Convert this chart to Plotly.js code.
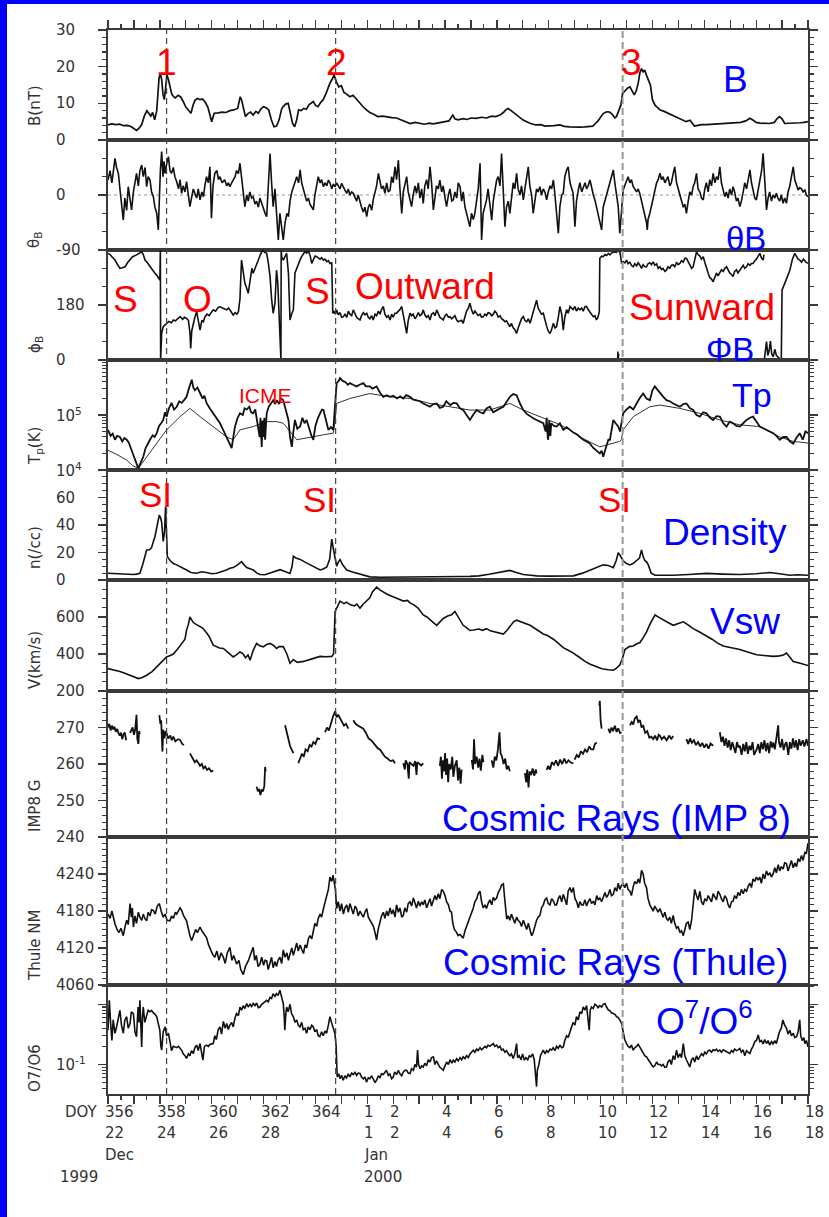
<!DOCTYPE html>
<html>
<head>
<meta charset="utf-8">
<script src="https://cdn.plot.ly/plotly-3.0.1.min.js"></script>
<style>
html,body{margin:0;padding:0;background:#0000ff;width:829px;height:1217px;overflow:hidden}
#frame{position:absolute;left:7px;top:4px;width:822px;height:1213px;background:#fff}
#chart{width:822px;height:1213px}
</style>
</head>
<body>
<div id="frame"><div id="chart"></div></div>
<script>
// Solar wind, magnetic field, cosmic ray and charge-state overview, 22 Dec 1999 - 18 Jan 2000.
// Time is given in days elapsed since 1999 DOY 356 00:00.

const dayTicks   = [0,2,4,6,8,10,11,13,15,17,19,21,23,25,27];
const doyLabels  = ['356','358','360','362','364','1','2','4','6','8','10','12','14','16','18'];
const dateLabels = ['22','24','26','28','','1','2','4','6','8','10','12','14','16','18'];
const eventDays  = [2.26, 8.78, 19.85];

// |B| in nT
const bField = [[0,4.1],[0.15,4.4],[0.3,4.2],[0.45,4.3],[0.6,3.9],[0.75,4.0],[0.9,3.6],[1.0,3.0],[1.1,2.6],[1.2,3.2],[1.3,4.2],[1.4,6.5],[1.5,8.0],[1.58,7.2],[1.65,6.5],[1.72,7.5],[1.8,5.5],[1.88,8],[1.93,12],[1.97,17],[2.02,18],[2.07,16.5],[2.12,12.5],[2.17,11],[2.22,14],[2.27,17.8],[2.33,16.5],[2.4,14.5],[2.46,12.5],[2.53,11.8],[2.6,11.5],[2.7,12.2],[2.8,11.8],[2.9,10.5],[3.0,9],[3.1,8.2],[3.2,7.3],[3.28,9.5],[3.35,10.8],[3.45,11.3],[3.55,11.0],[3.65,11.2],[3.75,10.3],[3.85,9],[3.93,6.5],[4.0,5],[4.06,6.5],[4.1,7.3],[4.25,7.4],[4.4,7.6],[4.55,7.5],[4.7,8.0],[4.85,8.2],[5.0,8.6],[5.06,10.5],[5.1,11.8],[5.15,11],[5.2,9.5],[5.26,7],[5.3,6.4],[5.4,7.2],[5.5,7.6],[5.6,6.8],[5.7,7.8],[5.8,7.3],[5.9,8.5],[6.0,9.1],[6.1,8.8],[6.2,8.2],[6.3,5.5],[6.4,3.6],[6.5,3.8],[6.6,5.5],[6.7,8.5],[6.76,9.1],[6.85,9.8],[6.95,10],[7.05,7],[7.12,4.5],[7.2,3.6],[7.28,5.5],[7.35,8.2],[7.45,8.0],[7.55,8.6],[7.65,8.4],[7.75,9.6],[7.85,10.2],[7.92,10.5],[8.0,9.5],[8.1,9.1],[8.2,10.2],[8.3,11],[8.4,12.5],[8.5,14.5],[8.56,15.5],[8.64,16.5],[8.72,17.7],[8.8,16],[8.9,14.5],[9.0,14.8],[9.1,13],[9.2,12.5],[9.33,11.8],[9.45,12.2],[9.6,11],[9.75,9.5],[9.85,9],[9.97,8.2],[10.1,7.5],[10.25,7],[10.4,6.4],[10.6,6.5],[10.8,6.2],[10.95,6.1],[11.13,6],[11.3,5.5],[11.45,5.0],[11.65,4.5],[11.85,4.8],[12.0,4.6],[12.2,4.3],[12.4,4.6],[12.54,4.4],[12.7,4.6],[12.85,4.9],[13.0,5],[13.15,5.2],[13.25,6.5],[13.3,6.8],[13.38,5.8],[13.5,5.5],[13.7,5.8],[13.85,5.6],[14.0,6],[14.2,5.9],[14.4,6.2],[14.6,6.0],[14.8,6.5],[14.95,6.4],[15.12,6.8],[15.25,7.5],[15.35,8.3],[15.43,8.6],[15.55,8.0],[15.7,7.2],[15.85,6.2],[16.0,5.5],[16.15,5.0],[16.3,4.5],[16.5,4.1],[16.7,4.2],[16.85,3.8],[17.0,3.8],[17.2,3.9],[17.43,4.1],[17.6,3.7],[17.8,3.6],[18.0,3.5],[18.2,3.5],[18.4,3.6],[18.55,3.7],[18.7,3.8],[18.8,4.5],[18.9,5.2],[19.0,6.2],[19.1,7.2],[19.23,7.7],[19.35,7.6],[19.45,7.0],[19.55,6.0],[19.62,6.5],[19.7,8.0],[19.78,9.5],[19.85,12.7],[19.95,13.5],[20.05,14.2],[20.13,14.5],[20.22,13.2],[20.3,12.3],[20.38,13.5],[20.45,15.5],[20.52,18.5],[20.58,19.5],[20.64,18.5],[20.7,19.1],[20.78,17.5],[20.85,16],[20.92,15],[21.0,11],[21.1,9.5],[21.2,8.8],[21.3,8.2],[21.45,7.8],[21.6,7.3],[21.75,6.8],[21.9,6.2],[22.0,6],[22.15,5.5],[22.3,5],[22.45,5.4],[22.55,4.6],[22.62,3.8],[22.75,4.0],[22.9,4.2],[23.1,4.2],[23.3,4.3],[23.5,4.4],[23.7,4.4],[23.86,4.5],[24.0,4.5],[24.2,4.6],[24.4,4.8],[24.6,5.2],[24.76,5.9],[24.9,5.3],[25.0,4.8],[25.15,4.6],[25.3,4.6],[25.5,4.5],[25.7,4.8],[25.8,5.8],[25.9,6.4],[26.0,5.8],[26.1,4.5],[26.3,4.5],[26.5,4.6],[26.7,4.7],[26.85,4.8],[27.0,5]];

// field latitude theta_B in degrees
const thetaB = [[0,24.5],[0.08,40],[0.15,20],[0.27,60],[0.33,45],[0.4,35.5],[0.46,10],[0.52,-15],[0.59,-41],[0.65,-5],[0.72,-25],[0.78,13.6],[0.85,-10],[0.91,-24.5],[0.98,5],[1.04,20],[1.1,35.5],[1.17,15],[1.23,40],[1.3,49],[1.36,30],[1.43,45],[1.49,13.6],[1.55,30],[1.62,24.5],[1.68,5],[1.75,-2.7],[1.81,-20],[1.88,-30],[1.94,-57],[1.98,0],[2.02,40],[2.07,71],[2.12,30],[2.16,55],[2.2,35.5],[2.26,50],[2.33,62.7],[2.39,40],[2.45,35.5],[2.52,45],[2.58,30],[2.65,21.8],[2.72,10],[2.78,25],[2.84,2.7],[2.9,15],[2.97,5],[3.03,21.8],[3.1,0],[3.16,-19],[3.22,-5],[3.29,10],[3.35,2.7],[3.42,-5],[3.48,10],[3.55,-8],[3.62,5],[3.68,-3],[3.74,16],[3.8,30],[3.87,20],[3.93,46],[3.96,10],[3.99,-38],[4.05,15],[4.12,35.5],[4.2,40],[4.26,25],[4.32,30],[4.4,20],[4.5,25],[4.58,15],[4.64,20],[4.7,13.6],[4.77,20],[4.83,25],[4.9,30],[4.96,40],[5.03,35],[5.09,52],[5.15,30],[5.2,10],[5.28,-19],[5.35,0],[5.41,-10],[5.47,5],[5.54,-5],[5.6,-2.7],[5.67,-15],[5.73,-10],[5.8,-20],[5.86,-5],[5.93,-13.6],[6.0,-25],[6.06,-30],[6.12,-35.5],[6.18,10],[6.25,68],[6.31,20],[6.37,-19],[6.44,10],[6.51,-30],[6.57,-73.6],[6.63,-30],[6.7,-50],[6.76,-73.6],[6.83,-45],[6.9,-30],[6.96,-35.5],[7.02,-10],[7.09,5],[7.15,13.6],[7.22,25],[7.28,30],[7.35,20],[7.41,41],[7.47,20],[7.54,10],[7.6,-2.7],[7.66,-10],[7.73,-5],[7.79,-15],[7.86,-20],[7.92,-24.5],[7.98,0],[8.05,20],[8.11,30],[8.18,20],[8.24,25],[8.31,13.6],[8.37,20],[8.44,15],[8.5,24.5],[8.56,20],[8.63,10],[8.69,18],[8.76,13.6],[8.82,20],[8.89,15],[8.95,10],[9.01,19],[9.08,12],[9.14,8],[9.21,2.7],[9.27,10],[9.33,0],[9.4,5],[9.46,2.7],[9.53,-5],[9.59,-10],[9.65,0],[9.72,-13.6],[9.78,-20],[9.85,-28],[9.91,-20],[9.98,-35.5],[10.04,-20],[10.1,-15],[10.17,-25],[10.23,-8],[10.3,5],[10.36,15],[10.43,35.5],[10.49,20],[10.55,10],[10.62,15],[10.68,2.7],[10.75,20],[10.81,5],[10.88,8],[10.94,30],[11.0,20],[11.07,46],[11.13,25],[11.2,57],[11.26,10],[11.33,-30],[11.39,5],[11.45,15],[11.52,30],[11.58,5],[11.65,-10],[11.71,-19],[11.77,0],[11.84,15],[11.9,2.7],[11.97,20],[12.03,-5],[12.1,10],[12.16,-13.6],[12.22,15],[12.29,25],[12.35,10],[12.42,46],[12.48,20],[12.55,-24.5],[12.61,0],[12.67,15],[12.74,10],[12.8,24.5],[12.87,5],[12.93,15],[13.0,-5],[13.06,-19],[13.13,0],[13.19,10],[13.26,-10],[13.32,-8],[13.38,5],[13.45,-5],[13.51,20],[13.58,13.6],[13.64,-10],[13.7,5],[13.77,-20],[13.83,-30],[13.9,-45],[13.96,-52],[14.02,-30],[14.09,-40],[14.15,-30],[14.22,-10],[14.28,10],[14.35,52],[14.38,0],[14.41,-73.6],[14.47,-30],[14.54,-20],[14.6,-8],[14.66,10],[14.73,-20],[14.8,-41],[14.86,-10],[14.92,10],[14.99,24.5],[15.05,30],[15.12,15],[15.18,68],[15.24,20],[15.31,-52],[15.37,-20],[15.44,-10],[15.5,-30],[15.56,-5],[15.63,20],[15.69,10],[15.76,35.5],[15.82,10],[15.89,0],[15.95,15],[16.02,-8],[16.08,10],[16.15,30],[16.21,46],[16.27,15],[16.34,0],[16.4,-30],[16.46,-10],[16.53,10],[16.59,5],[16.66,13.6],[16.72,0],[16.79,10],[16.85,5],[16.92,-8],[16.98,5],[17.05,15],[17.11,10],[17.18,24.5],[17.24,0],[17.31,-30],[17.37,-62.7],[17.43,-19],[17.5,0],[17.56,2.7],[17.62,30],[17.69,41],[17.75,46],[17.82,20],[17.88,10],[17.94,2.7],[18.01,-52],[18.07,-10],[18.14,8],[18.2,20],[18.27,5],[18.33,13.6],[18.4,20],[18.46,10],[18.52,15],[18.59,24.5],[18.65,10],[18.72,0],[18.78,-8],[18.85,-20],[18.91,-30],[18.97,-45],[19.04,-57],[19.1,-20],[19.16,-10],[19.23,-2.7],[19.29,10],[19.36,20],[19.42,30],[19.49,41],[19.55,20],[19.62,-5],[19.68,-19],[19.74,-62.7],[19.8,-30],[19.87,8],[19.93,15],[20.0,25],[20.06,30],[20.13,20],[20.19,25],[20.26,13.6],[20.32,10],[20.39,5],[20.45,10],[20.51,2.7],[20.58,-10],[20.64,-20],[20.7,-35],[20.77,-45],[20.8,-57],[20.83,-40],[20.9,-30],[20.96,-19],[21.03,-5],[21.09,10],[21.16,20],[21.22,25],[21.29,35.5],[21.35,25],[21.41,30],[21.48,20],[21.54,24.5],[21.6,30],[21.67,15],[21.73,20],[21.8,35],[21.86,46],[21.93,20],[21.99,10],[22.06,-2.7],[22.12,-10],[22.19,-20],[22.25,-15],[22.31,-30],[22.38,-10],[22.44,5],[22.51,0],[22.57,13.6],[22.63,20],[22.7,35.5],[22.76,10],[22.83,5],[22.89,-5],[22.96,-8],[23.02,10],[23.08,20],[23.15,5],[23.21,25],[23.28,15],[23.34,35.5],[23.41,20],[23.47,30],[23.53,25],[23.6,46],[23.66,20],[23.73,10],[23.79,-2.7],[23.85,5],[23.92,-5],[23.98,10],[24.05,0],[24.11,13.6],[24.17,5],[24.24,-10],[24.3,-5],[24.37,-19],[24.43,-10],[24.5,5],[24.56,20],[24.63,10],[24.69,25],[24.76,41],[24.82,20],[24.89,5],[24.95,-5],[25.01,-8],[25.08,10],[25.14,20],[25.21,40],[25.27,68],[25.33,20],[25.4,-24.5],[25.46,-5],[25.52,5],[25.59,-10],[25.65,0],[25.72,-5],[25.78,2.7],[25.84,-5],[25.91,-10],[25.97,0],[26.04,-13.6],[26.1,-5],[26.17,-13.6],[26.23,5],[26.3,15],[26.36,30],[26.43,46],[26.49,25],[26.56,15],[26.62,8],[26.68,12],[26.75,10],[26.81,5],[26.88,8],[26.94,0],[27,-2.7]];

// field longitude phi_B in degrees (0-360, wraps); [null,null] marks a break in the trace
const phiB = [[0,349],[0.08,345],[0.15,338],[0.27,327],[0.35,315],[0.46,300],[0.55,302],[0.66,305],[0.75,318],[0.85,327],[0.95,338],[1.1,344],[1.2,350],[1.3,354],[1.36,345],[1.43,327],[1.52,318],[1.62,305],[1.7,298],[1.81,284],[1.9,275],[2.0,262],[2.02,359],[2.03,1],[2.07,87],[2.13,109],[2.2,115],[2.26,120],[2.35,126],[2.45,122],[2.52,131],[2.6,128],[2.7,135],[2.78,142],[2.88,133],[2.95,140],[3.03,136],[3.1,130],[3.16,90],[3.19,38],[3.23,95],[3.29,120],[3.35,140],[3.42,158],[3.48,135],[3.55,98],[3.62,130],[3.68,125],[3.74,142],[3.82,150],[3.9,145],[3.98,155],[4.06,164],[4.15,160],[4.25,172],[4.32,174],[4.4,170],[4.48,168],[4.58,164],[4.65,170],[4.75,158],[4.83,147],[4.9,155],[4.97,150],[5.03,158],[5.09,200],[5.15,327],[5.2,300],[5.28,251],[5.35,235],[5.41,218],[5.48,260],[5.55,300],[5.6,284],[5.67,300],[5.73,316],[5.8,330],[5.88,345],[5.95,358],[5.99,358],[6.05,352],[6.12,349],[6.18,320],[6.25,273],[6.31,200],[6.37,153],[6.44,186],[6.5,294],[6.55,250],[6.6,120],[6.64,11],[6.67,2],[6.68,358],[6.7,338],[6.76,327],[6.83,340],[6.89,349],[6.96,284],[7.02,131],[7.08,150],[7.15,164],[7.21,284],[7.28,300],[7.34,316],[7.42,330],[7.48,340],[7.54,349],[7.6,355],[7.66,350],[7.73,357],[7.8,340],[7.86,316],[7.93,330],[7.99,340],[8.05,338],[8.12,332],[8.18,330],[8.24,335],[8.31,327],[8.37,330],[8.44,322],[8.5,325],[8.56,316],[8.63,318],[8.67,153],[8.72,158],[8.77,150],[8.82,164],[8.88,148],[8.95,155],[9.01,140],[9.08,142],[9.14,150],[9.21,140],[9.27,160],[9.33,150],[9.4,145],[9.46,164],[9.53,150],[9.59,140],[9.65,135],[9.72,131],[9.78,145],[9.85,155],[9.91,148],[9.98,153],[10.04,140],[10.1,135],[10.17,145],[10.23,131],[10.3,150],[10.36,145],[10.43,160],[10.49,150],[10.55,165],[10.62,175],[10.68,150],[10.75,140],[10.81,145],[10.88,131],[10.94,150],[11.0,140],[11.07,153],[11.13,153],[11.2,160],[11.26,165],[11.33,175],[11.39,140],[11.45,120],[11.52,87],[11.58,130],[11.65,153],[11.71,145],[11.77,150],[11.84,135],[11.9,142],[11.97,155],[12.03,145],[12.1,150],[12.16,164],[12.22,148],[12.29,140],[12.35,145],[12.42,131],[12.48,150],[12.55,155],[12.61,145],[12.68,164],[12.74,150],[12.8,140],[12.87,135],[12.93,131],[13.0,145],[13.06,150],[13.13,140],[13.19,142],[13.26,135],[13.32,140],[13.38,145],[13.45,131],[13.51,125],[13.58,128],[13.64,130],[13.7,120],[13.77,140],[13.83,160],[13.9,170],[13.96,186],[14.02,165],[14.09,150],[14.15,160],[14.22,153],[14.28,145],[14.35,150],[14.41,140],[14.48,142],[14.54,150],[14.6,145],[14.66,155],[14.73,153],[14.8,145],[14.86,150],[14.92,160],[14.99,153],[15.05,140],[15.12,145],[15.18,135],[15.25,131],[15.31,125],[15.37,128],[15.44,115],[15.5,109],[15.56,120],[15.63,105],[15.69,100],[15.76,87],[15.82,105],[15.89,125],[15.95,135],[16.02,142],[16.08,130],[16.15,125],[16.21,135],[16.28,120],[16.34,140],[16.4,160],[16.46,175],[16.53,196],[16.59,170],[16.66,160],[16.72,150],[16.79,153],[16.85,130],[16.92,110],[16.98,95],[17.05,87],[17.11,100],[17.18,120],[17.24,105],[17.3,109],[17.37,140],[17.43,175],[17.5,150],[17.56,98],[17.62,140],[17.69,165],[17.75,153],[17.82,175],[17.88,170],[17.94,165],[18.01,175],[18.07,160],[18.14,170],[18.2,164],[18.27,170],[18.33,160],[18.4,175],[18.46,175],[18.52,165],[18.59,155],[18.65,150],[18.72,142],[18.78,145],[18.84,131],[18.9,140],[18.95,158],[18.97,333],[19.04,340],[19.1,338],[19.17,345],[19.23,342],[19.3,348],[19.36,344],[19.42,350],[19.49,352],[19.55,354],[19.6,352],[19.64,356],[null,null],[19.66,3],[19.67,28],[19.68,6],[19.7,20],[null,null],[19.72,352],[19.74,356],[19.78,335],[19.81,316],[19.87,322],[19.94,318],[20.0,327],[20.06,315],[20.13,320],[20.19,310],[20.26,305],[20.32,315],[20.39,308],[20.45,318],[20.51,311],[20.58,300],[20.64,312],[20.7,306],[20.77,305],[20.83,315],[20.9,318],[20.96,312],[21.03,321],[21.09,310],[21.16,315],[21.22,300],[21.29,305],[21.35,296],[21.41,300],[21.48,290],[21.54,294],[21.6,305],[21.67,300],[21.73,310],[21.8,311],[21.86,305],[21.93,320],[21.99,312],[22.06,316],[22.12,325],[22.19,320],[22.25,333],[22.31,333],[22.38,320],[22.44,310],[22.51,300],[22.57,305],[22.63,330],[22.7,354],[22.76,345],[22.83,340],[22.89,330],[22.96,338],[23.02,320],[23.08,300],[23.15,284],[23.21,270],[23.28,265],[23.34,256],[23.41,270],[23.47,285],[23.53,275],[23.6,284],[23.66,295],[23.73,290],[23.79,300],[23.86,305],[23.92,295],[23.98,285],[24.05,280],[24.11,273],[24.17,290],[24.24,295],[24.3,285],[24.37,294],[24.43,300],[24.5,310],[24.56,300],[24.63,305],[24.69,315],[24.76,310],[24.82,316],[24.88,316],[24.95,325],[25.01,330],[25.08,340],[25.14,349],[25.2,335],[25.27,327],[25.3,345],[null,null],[25.32,5],[25.36,45],[25.4,60],[25.45,15],[25.5,30],[25.55,62],[25.6,20],[25.66,10],[25.72,35],[25.78,15],[25.85,8],[25.92,3],[25.97,5],[26.0,229],[26.1,250],[26.2,270],[26.3,294],[26.4,330],[26.49,349],[26.55,340],[26.62,330],[26.68,327],[26.75,320],[26.82,330],[26.9,322],[27,316]];

// proton temperature, log10(K): measured and expected
const tpLog = [[0,4.73],[0.1,4.62],[0.18,4.66],[0.27,4.55],[0.35,4.62],[0.46,4.6],[0.55,4.52],[0.63,4.58],[0.72,4.55],[0.8,4.5],[0.91,4.36],[1.0,4.25],[1.08,4.12],[1.17,4.03],[1.25,4.12],[1.36,4.24],[1.45,4.4],[1.55,4.5],[1.62,4.55],[1.72,4.63],[1.8,4.6],[1.88,4.67],[1.97,4.8],[2.05,4.85],[2.13,4.91],[2.2,5.05],[2.26,4.97],[2.35,5.12],[2.45,5.22],[2.55,5.1],[2.65,5.15],[2.75,5.25],[2.84,5.22],[2.95,5.28],[3.03,5.33],[3.1,5.45],[3.16,5.55],[3.23,5.64],[3.29,5.5],[3.35,5.45],[3.45,5.5],[3.55,5.39],[3.65,5.3],[3.72,5.35],[3.8,5.22],[3.93,5.12],[4.06,5.03],[4.18,4.95],[4.32,4.85],[4.45,4.72],[4.58,4.6],[4.68,4.5],[4.77,4.4],[4.85,4.65],[4.9,4.79],[5.0,4.95],[5.09,5.03],[5.2,5.0],[5.27,5.12],[5.35,5.1],[5.45,5.15],[5.52,5.05],[5.6,5.03],[5.68,5.1],[5.75,4.9],[5.8,4.79],[5.85,4.6],[5.88,4.95],[5.9,4.5],[5.93,4.42],[5.96,4.9],[5.99,4.6],[6.03,4.95],[6.06,4.55],[6.12,5.03],[6.2,5.15],[6.3,5.22],[6.37,5.27],[6.45,5.2],[6.51,5.27],[6.6,5.2],[6.68,5.3],[6.76,5.27],[6.85,5.1],[6.96,4.91],[7.02,4.6],[7.09,4.42],[7.15,4.7],[7.21,4.91],[7.3,4.75],[7.41,4.79],[7.5,4.95],[7.58,4.85],[7.66,4.91],[7.75,4.75],[7.85,4.62],[7.92,4.55],[8.0,4.8],[8.1,4.95],[8.18,5.03],[8.25,5.1],[8.31,5.09],[8.4,4.9],[8.5,4.73],[8.6,4.78],[8.69,4.73],[8.76,5.2],[8.82,5.58],[8.9,5.62],[8.95,5.67],[9.05,5.62],[9.15,5.6],[9.25,5.55],[9.33,5.58],[9.45,5.55],[9.59,5.52],[9.7,5.55],[9.85,5.58],[9.95,5.52],[10.1,5.52],[10.2,5.48],[10.36,5.52],[10.5,5.4],[10.62,5.33],[10.75,5.36],[10.88,5.33],[11.0,5.35],[11.15,5.3],[11.27,5.34],[11.39,5.3],[11.5,5.36],[11.65,5.33],[11.78,5.28],[11.9,5.27],[12.03,5.25],[12.16,5.21],[12.3,5.18],[12.42,5.15],[12.55,5.2],[12.68,5.21],[12.8,5.13],[12.93,5.15],[13.05,5.25],[13.2,5.18],[13.32,5.22],[13.45,5.21],[13.58,5.12],[13.7,5.09],[13.83,5.0],[13.96,4.91],[14.08,5.0],[14.22,5.09],[14.35,5.05],[14.48,5.03],[14.6,5.12],[14.73,5.15],[14.86,5.05],[14.99,5.09],[15.12,5.12],[15.25,5.15],[15.38,5.25],[15.5,5.33],[15.63,5.38],[15.76,5.36],[15.9,5.2],[16.02,5.09],[16.15,5.02],[16.28,4.97],[16.4,4.94],[16.53,4.91],[16.66,4.88],[16.79,4.85],[16.88,4.7],[16.92,4.95],[16.96,4.6],[16.98,4.55],[17.02,4.9],[17.06,4.62],[17.1,4.85],[17.2,4.8],[17.3,4.79],[17.43,4.85],[17.56,4.73],[17.69,4.78],[17.82,4.73],[17.95,4.68],[18.08,4.65],[18.2,4.6],[18.33,4.55],[18.46,4.52],[18.59,4.48],[18.72,4.4],[18.84,4.35],[18.97,4.3],[19.04,4.35],[19.1,4.24],[19.2,4.4],[19.3,4.55],[19.36,4.55],[19.42,4.75],[19.49,4.91],[19.58,4.85],[19.68,4.79],[19.75,4.7],[19.87,5.03],[20.0,5.1],[20.13,5.15],[20.26,5.1],[20.39,5.21],[20.5,5.3],[20.64,5.39],[20.77,5.3],[20.9,5.27],[21.0,5.45],[21.09,5.52],[21.2,5.45],[21.29,5.39],[21.42,5.33],[21.54,5.27],[21.67,5.25],[21.8,5.21],[21.93,5.18],[22.06,5.15],[22.19,5.2],[22.31,5.21],[22.45,5.12],[22.57,5.09],[22.7,5.0],[22.83,4.97],[22.96,5.05],[23.09,5.03],[23.22,4.95],[23.34,4.91],[23.47,4.98],[23.6,4.97],[23.73,4.85],[23.86,4.79],[23.98,4.88],[24.11,4.85],[24.24,4.8],[24.37,4.79],[24.5,4.85],[24.63,4.91],[24.76,4.95],[24.88,4.97],[25.01,4.88],[25.14,4.79],[25.27,4.76],[25.4,4.73],[25.53,4.7],[25.66,4.67],[25.78,4.62],[25.91,4.55],[26.04,4.6],[26.17,4.6],[26.3,4.52],[26.43,4.48],[26.55,4.58],[26.68,4.67],[26.8,4.55],[26.9,4.7],[27,4.67]];
const tpExpLog = [[0,4.36],[0.35,4.28],[0.72,4.18],[0.95,4.08],[1.17,4.03],[1.49,4.24],[1.88,4.48],[2.26,4.73],[2.78,4.97],[3.16,5.12],[3.55,4.97],[4.06,4.79],[4.58,4.6],[4.83,4.55],[5.09,4.73],[5.6,4.79],[6.12,4.88],[6.5,4.88],[6.76,4.85],[7.28,4.55],[7.79,4.6],[8.31,4.64],[8.69,4.67],[8.76,4.9],[8.82,5.21],[9.33,5.3],[10.1,5.39],[10.88,5.33],[11.65,5.3],[12.42,5.21],[13.19,5.15],[13.96,5.09],[14.73,5.09],[15.5,5.21],[16.02,5.09],[16.53,5.0],[17.3,4.85],[17.82,4.73],[18.2,4.6],[18.97,4.42],[19.74,4.52],[19.8,4.55],[19.87,4.73],[20.26,4.97],[20.9,5.15],[21.29,5.18],[22.06,5.12],[22.83,5.03],[23.6,4.91],[24.37,4.82],[25.14,4.79],[25.91,4.6],[26.43,4.52],[27,4.49]];

// proton density, /cc
const density = [[0,4.9],[0.3,4.5],[0.6,4.2],[0.98,4],[1.1,4.3],[1.23,4.9],[1.35,12],[1.49,21.8],[1.6,22],[1.68,23.5],[1.75,28],[1.81,31.5],[1.9,40],[1.98,47.3],[2.03,45],[2.07,42],[2.13,28],[2.18,35],[2.22,53.3],[2.26,30],[2.29,17],[2.4,14],[2.52,12],[2.65,11],[2.78,10],[2.9,8.5],[3.03,7.3],[3.2,5.5],[3.42,4.9],[3.6,6],[3.8,5.5],[4.0,4.5],[4.19,4.9],[4.4,6],[4.57,7.3],[4.7,8.5],[4.83,9],[5.0,11],[5.15,13.3],[5.25,11],[5.35,9],[5.5,8],[5.6,7.3],[5.75,5],[5.86,4],[6.05,3.8],[6.25,5],[6.45,6.5],[6.64,7.5],[6.85,6],[7.02,4.8],[7.1,10],[7.15,17.3],[7.25,16],[7.41,15],[7.6,13],[7.79,11],[8.0,9],[8.18,7.3],[8.3,8],[8.44,9.5],[8.55,15],[8.63,29.8],[8.68,24],[8.72,20],[8.78,13],[8.82,10],[8.88,13],[8.95,14.8],[9.05,11],[9.21,7.3],[9.4,6],[9.59,5],[9.8,3.5],[10.1,2.3],[10.5,2.0],[10.75,2],[11.2,2.1],[11.8,2.2],[12.3,2.3],[12.68,2.3],[13.2,2.4],[13.6,2.5],[13.96,2.6],[14.3,3],[14.7,4.2],[15.0,5.2],[15.25,6],[15.5,7],[15.75,5.5],[16.02,4],[16.3,3.5],[16.53,3],[17.0,2.8],[17.5,2.9],[17.95,3],[18.3,5],[18.59,7.3],[18.85,9],[19.1,11],[19.3,10.5],[19.49,9],[19.6,14],[19.68,19.8],[19.75,18],[19.87,14],[20.0,12],[20.13,11],[20.25,12],[20.39,14],[20.5,16],[20.58,21.8],[20.64,17],[20.71,14],[20.78,13],[20.84,11],[20.95,5],[21.1,3.5],[21.5,3.3],[21.8,3.5],[22.4,4],[23.09,4.8],[23.7,4.3],[24.37,4],[25.0,4.5],[25.53,5.5],[25.9,4.5],[26.3,3.5],[26.6,3.8],[27,3.5]];

// solar wind speed, km/s
const speed = [[0,321],[0.2,315],[0.46,305],[0.65,296],[0.85,285],[1.0,275],[1.17,267],[1.3,272],[1.49,285],[1.7,305],[1.88,330],[2.05,350],[2.26,384],[2.4,392],[2.52,400],[2.7,430],[2.9,466],[2.97,480],[3.03,529],[3.1,560],[3.16,601],[3.22,585],[3.29,570],[3.4,560],[3.55,550],[3.65,540],[3.8,515],[3.9,495],[4.06,448],[4.2,440],[4.3,432],[4.45,430],[4.6,410],[4.7,400],[4.83,384],[4.95,395],[5.09,411],[5.2,402],[5.3,380],[5.4,395],[5.48,366],[5.6,420],[5.73,457],[5.85,445],[5.99,439],[6.1,450],[6.25,457],[6.4,445],[6.5,430],[6.6,440],[6.76,440],[6.9,400],[7.02,350],[7.15,370],[7.3,355],[7.54,360],[7.7,368],[7.9,375],[8.18,387],[8.4,385],[8.63,387],[8.7,400],[8.76,630],[8.85,660],[8.95,686],[9.1,672],[9.2,680],[9.33,667],[9.5,660],[9.6,670],[9.72,648],[9.85,670],[10.0,690],[10.1,704],[10.2,735],[10.3,750],[10.36,761],[10.5,745],[10.6,735],[10.75,724],[10.9,715],[11.1,705],[11.25,695],[11.39,686],[11.55,690],[11.65,676],[11.78,667],[11.95,650],[12.16,611],[12.3,600],[12.45,580],[12.55,570],[12.68,555],[12.8,575],[12.93,592],[13.1,605],[13.25,612],[13.38,630],[13.5,600],[13.6,575],[13.7,555],[13.85,540],[13.96,527],[14.1,530],[14.3,535],[14.45,528],[14.6,537],[14.75,525],[14.9,520],[15.05,515],[15.25,508],[15.4,530],[15.55,560],[15.65,575],[15.76,583],[15.9,575],[16.05,565],[16.28,555],[16.5,535],[16.66,518],[16.79,508],[16.95,500],[17.18,480],[17.35,460],[17.56,434],[17.75,420],[17.95,405],[18.15,385],[18.4,360],[18.6,345],[18.85,331],[19.05,320],[19.3,315],[19.49,312],[19.6,322],[19.74,340],[19.85,380],[19.94,424],[20.1,440],[20.26,443],[20.4,455],[20.52,462],[20.65,490],[20.77,518],[20.9,560],[21.0,590],[21.1,611],[21.25,598],[21.42,583],[21.6,570],[21.8,555],[22.0,565],[22.19,574],[22.4,555],[22.57,537],[22.8,520],[23.09,499],[23.3,480],[23.5,460],[23.73,443],[24.0,435],[24.37,424],[24.7,410],[25.02,396],[25.3,392],[25.66,387],[25.9,390],[26.05,395],[26.17,405],[26.3,380],[26.43,359],[26.7,350],[26.94,340],[27,338]];

// IMP 8 cosmic ray counts; separate runs of data
const imp8Runs = [
 [[0,270],[0.05,271],[0.1,269.2],[0.15,270.5],[0.2,269.5],[0.25,270.2],[0.3,268.8],[0.35,269.6],[0.4,268.5],[0.45,267.8],[0.5,268.6],[0.55,266.8],[0.6,268.2],[0.65,268.6],[0.7,266.5]],
 [[0.85,268.5],[0.9,269.2],[0.95,270],[1.0,268],[1.05,269.5],[1.1,273.5],[1.13,267],[1.17,265.5],[1.2,269],[1.23,268.2]],
 [[1.98,273.4],[2.02,271],[2.05,272],[2.08,268],[2.1,263.4],[2.13,269.4],[2.18,267],[2.22,269],[2.26,268.4],[2.32,267],[2.4,267.8],[2.46,266.5],[2.52,267.5],[2.6,266.2],[2.7,266.8],[2.78,266.6],[2.86,265.5],[2.93,265.2]],
 [[3.16,262.9],[3.22,262],[3.29,261.1],[3.35,260.5],[3.42,261],[3.48,260.2],[3.55,259.5],[3.62,260],[3.68,258.8],[3.75,259.3],[3.82,258.4],[3.9,258.8],[3.98,257.9],[4.06,258.2]],
 [[5.73,253.8],[5.78,252.5],[5.83,253.2],[5.88,251.5],[5.93,253],[5.98,252.5],[6.03,254],[6.06,259.2],[6.08,258]],
 [[6.83,270.6],[6.9,268.5],[6.96,267],[7.02,265],[7.08,264],[7.15,263]],
 [[7.34,260.2],[7.4,261.5],[7.48,262.8],[7.55,262],[7.62,264],[7.7,263.5],[7.78,265.2],[7.85,264.8],[7.92,266],[8.0,265.5],[8.08,267],[8.18,266.8]],
 [[8.37,268.7],[8.45,270],[8.52,269.2],[8.6,271.5],[8.68,273],[8.76,274.4],[8.82,272.8],[8.88,273.5],[8.95,272.5],[9.02,271.8],[9.1,270.5],[9.18,271],[9.27,269.7]],
 [[9.46,272],[9.55,271],[9.65,270.5],[9.75,270],[9.85,269.7],[9.95,268.5],[10.05,267],[10.15,266.5],[10.23,265.9],[10.33,265],[10.42,264.2],[10.49,264],[10.58,263],[10.68,262],[10.78,261.5],[10.9,260.8],[11.0,261],[11.07,260.2]],
 [[11.39,260.2],[11.45,258.5],[11.48,261],[11.55,260],[11.6,256],[11.63,260.5],[11.7,260],[11.78,259.5],[11.85,260.8],[11.9,257],[11.93,260.5],[12.0,260],[12.08,259.6],[12.16,260.2]],
 [[12.8,259.5],[12.84,262],[12.88,256],[12.92,261],[12.96,258],[13.0,263],[13.04,257],[13.08,261.5],[13.12,255],[13.16,260],[13.22,258.5],[13.28,262],[13.32,256.5],[13.38,259.5],[13.45,261],[13.5,255.5],[13.55,259],[13.6,254.6],[13.64,258.5]],
 [[14.03,261.1],[14.08,258.5],[14.12,266.8],[14.16,260],[14.22,262],[14.28,259],[14.33,261.5],[14.38,258.2],[14.44,262.5],[14.48,260.5]],
 [[14.8,261],[14.86,259],[14.92,262],[14.98,261],[15.04,264],[15.1,268.7],[15.14,263],[15.2,262],[15.26,260],[15.32,261.5],[15.38,258.5],[15.44,259.5],[15.5,258]],
 [[16.08,257.5],[16.13,255],[16.17,258.5],[16.22,253.6],[16.26,258],[16.32,257],[16.38,258.8],[16.44,256.8],[16.5,258.5],[16.53,257.4]],
 [[16.92,258.4],[16.98,259.5],[17.05,258.5],[17.12,260.5],[17.2,259.8],[17.28,261],[17.36,259.5],[17.44,261.2],[17.52,260],[17.6,261.5],[17.68,260.2],[17.76,261],[17.85,260.4],[17.95,260.2]],
 [[18.0,261.2],[18.08,262.5],[18.16,261.8],[18.24,263.5],[18.32,262.8],[18.4,264],[18.48,263.2],[18.56,264.8],[18.64,264],[18.72,264],[18.78,265.5],[18.85,265.9]],
 [[18.95,276],[18.97,277.3],[19.0,272],[19.04,269.7]],
 [[19.3,269.7],[19.36,268.5],[19.42,270],[19.48,269],[19.55,270.5],[19.62,268.8],[19.68,269.8],[19.75,268.5],[19.81,268.7]],
 [[20.13,270.6],[20.2,271.5],[20.26,270.8],[20.32,272.5],[20.39,273],[20.45,271.5],[20.52,272],[20.58,270],[20.64,270.6],[20.72,268.5],[20.8,269],[20.88,267.2],[20.95,267.5],[21.03,266.8],[21.1,267.8],[21.18,266.5],[21.24,268],[21.29,267.7],[21.36,266.8],[21.45,267.5],[21.55,266.5],[21.65,267.8],[21.72,266.8],[21.8,267.7]],
 [[22.31,266.8],[22.38,265.5],[22.45,267],[22.52,265.8],[22.6,266.5],[22.68,265.2],[22.76,266],[22.84,264.8],[22.92,265.8],[23.0,264.5],[23.08,265.5],[23.16,264.2],[23.24,265.6],[23.34,265]],
 [[23.6,268.7],[23.66,266],[23.72,267.5],[23.78,265],[23.84,267],[23.9,264.5],[23.96,266.5],[24.02,263.8],[24.08,266],[24.14,264.5],[24.2,263],[24.26,266],[24.32,264.5],[24.37,265],[24.44,262.5],[24.5,265.5],[24.56,263.5],[24.62,266],[24.68,262.8],[24.74,265],[24.8,263.8],[24.86,266],[24.92,262.5],[25.02,264],[25.08,265.5],[25.14,263],[25.2,266],[25.26,264],[25.32,266.5],[25.38,263.5],[25.44,265.8],[25.5,263],[25.56,266.2],[25.62,264.5],[25.66,265.9],[25.72,264],[25.78,266.5],[25.85,270.6],[25.88,266],[25.94,264.5],[26.0,266.8],[26.06,263.8],[26.12,265.5],[26.17,266],[26.24,262.5],[26.3,266],[26.36,264.2],[26.42,267],[26.48,264.5],[26.54,266.5],[26.6,263.8],[26.66,266.8],[26.72,265],[26.8,266.5],[26.86,264.8],[26.94,266.8],[27,265]]
];

// Thule neutron monitor counts
const thule = [[0,4175],[0.08,4168],[0.15,4180],[0.22,4165],[0.27,4159],[0.35,4150],[0.42,4145],[0.5,4152],[0.59,4140],[0.66,4155],[0.72,4165],[0.78,4158],[0.85,4192],[0.9,4170],[0.94,4185],[0.98,4154],[1.04,4172],[1.1,4160],[1.17,4178],[1.23,4170],[1.3,4165],[1.36,4175],[1.42,4168],[1.49,4164],[1.55,4178],[1.62,4172],[1.68,4182],[1.75,4181],[1.82,4175],[1.9,4188],[1.98,4192],[2.05,4180],[2.13,4170],[2.2,4175],[2.28,4165],[2.39,4164],[2.45,4172],[2.52,4168],[2.6,4178],[2.65,4175],[2.72,4182],[2.78,4185],[2.84,4181],[2.92,4172],[3.03,4164],[3.1,4150],[3.16,4140],[3.23,4132],[3.3,4142],[3.38,4150],[3.45,4145],[3.55,4154],[3.62,4148],[3.7,4142],[3.8,4137],[3.88,4125],[3.95,4118],[4.03,4110],[4.12,4105],[4.2,4115],[4.28,4100],[4.36,4112],[4.45,4105],[4.52,4095],[4.6,4112],[4.7,4121],[4.78,4100],[4.85,4108],[4.96,4094],[5.05,4100],[5.12,4085],[5.22,4077],[5.3,4090],[5.41,4099],[5.5,4110],[5.6,4121],[5.66,4100],[5.72,4108],[5.79,4090],[5.86,4094],[5.93,4105],[6.0,4092],[6.06,4100],[6.12,4099],[6.18,4085],[6.25,4095],[6.31,4105],[6.37,4088],[6.44,4098],[6.5,4090],[6.56,4100],[6.63,4105],[6.7,4095],[6.76,4117],[6.83,4105],[6.9,4112],[6.96,4100],[7.02,4110],[7.09,4120],[7.15,4108],[7.21,4118],[7.28,4128],[7.34,4115],[7.41,4125],[7.47,4118],[7.54,4111],[7.6,4125],[7.66,4120],[7.73,4135],[7.79,4140],[7.86,4135],[7.92,4150],[7.98,4160],[8.05,4155],[8.11,4168],[8.18,4175],[8.24,4170],[8.31,4184],[8.37,4195],[8.44,4205],[8.5,4215],[8.56,4235],[8.63,4228],[8.68,4238],[8.72,4229],[8.77,4215],[8.82,4184],[8.88,4195],[8.95,4180],[9.01,4192],[9.08,4175],[9.14,4185],[9.21,4190],[9.27,4178],[9.33,4192],[9.4,4183],[9.46,4175],[9.53,4188],[9.59,4184],[9.65,4172],[9.72,4180],[9.78,4175],[9.85,4170],[9.91,4178],[9.98,4184],[10.04,4170],[10.1,4165],[10.17,4160],[10.23,4156],[10.3,4145],[10.36,4133],[10.42,4150],[10.49,4165],[10.55,4172],[10.62,4178],[10.68,4168],[10.75,4180],[10.81,4172],[10.88,4185],[10.94,4175],[11.0,4182],[11.07,4170],[11.13,4190],[11.2,4178],[11.26,4185],[11.33,4170],[11.39,4173],[11.45,4185],[11.52,4178],[11.58,4192],[11.65,4195],[11.71,4188],[11.78,4201],[11.84,4192],[11.9,4185],[11.97,4196],[12.03,4188],[12.1,4195],[12.16,4190],[12.22,4198],[12.29,4185],[12.35,4192],[12.42,4200],[12.48,4188],[12.55,4196],[12.61,4205],[12.67,4198],[12.74,4208],[12.8,4200],[12.87,4215],[12.93,4212],[13.0,4205],[13.06,4195],[13.13,4190],[13.19,4180],[13.25,4178],[13.3,4160],[13.36,4150],[13.45,4145],[13.5,4140],[13.58,4142],[13.64,4138],[13.7,4136],[13.77,4148],[13.83,4155],[13.9,4162],[13.96,4167],[14.02,4175],[14.09,4185],[14.15,4195],[14.22,4200],[14.28,4208],[14.35,4212],[14.41,4195],[14.47,4185],[14.54,4190],[14.6,4184],[14.66,4192],[14.73,4198],[14.8,4190],[14.86,4202],[14.92,4198],[14.99,4201],[15.05,4210],[15.12,4215],[15.18,4222],[15.25,4224],[15.3,4200],[15.38,4167],[15.44,4172],[15.5,4165],[15.56,4175],[15.63,4168],[15.69,4160],[15.76,4170],[15.82,4165],[15.89,4162],[15.95,4155],[16.02,4165],[16.08,4158],[16.15,4150],[16.21,4160],[16.28,4148],[16.34,4140],[16.4,4145],[16.46,4155],[16.53,4165],[16.59,4170],[16.66,4173],[16.72,4185],[16.79,4190],[16.85,4198],[16.92,4201],[16.98,4192],[17.05,4190],[17.11,4200],[17.18,4196],[17.24,4190],[17.3,4190],[17.37,4200],[17.43,4205],[17.5,4195],[17.56,4207],[17.62,4200],[17.69,4190],[17.75,4212],[17.82,4218],[17.88,4210],[17.95,4218],[18.01,4200],[18.08,4195],[18.14,4185],[18.2,4195],[18.27,4190],[18.33,4190],[18.4,4198],[18.46,4188],[18.52,4195],[18.59,4200],[18.65,4192],[18.72,4196],[18.78,4190],[18.85,4205],[18.91,4198],[18.97,4201],[19.04,4195],[19.1,4201],[19.17,4210],[19.23,4202],[19.3,4207],[19.36,4215],[19.42,4205],[19.49,4207],[19.55,4218],[19.62,4212],[19.68,4225],[19.74,4215],[19.81,4222],[19.87,4224],[19.93,4218],[20.0,4225],[20.06,4215],[20.13,4212],[20.19,4205],[20.26,4220],[20.32,4228],[20.39,4224],[20.45,4232],[20.51,4225],[20.58,4246],[20.64,4240],[20.7,4225],[20.77,4218],[20.83,4200],[20.9,4190],[20.96,4185],[21.03,4180],[21.09,4188],[21.16,4182],[21.22,4178],[21.29,4184],[21.35,4175],[21.41,4170],[21.48,4178],[21.54,4168],[21.6,4165],[21.67,4170],[21.73,4160],[21.8,4173],[21.86,4160],[21.93,4152],[21.99,4155],[22.06,4145],[22.12,4148],[22.19,4140],[22.25,4150],[22.31,4160],[22.38,4162],[22.44,4150],[22.51,4165],[22.57,4195],[22.63,4215],[22.7,4205],[22.76,4198],[22.83,4212],[22.89,4195],[22.96,4190],[23.02,4200],[23.09,4196],[23.15,4205],[23.21,4200],[23.28,4195],[23.34,4208],[23.41,4202],[23.47,4198],[23.53,4212],[23.6,4207],[23.66,4200],[23.73,4195],[23.79,4205],[23.86,4200],[23.92,4190],[23.98,4185],[24.05,4195],[24.11,4196],[24.17,4205],[24.24,4200],[24.3,4210],[24.37,4205],[24.43,4215],[24.5,4208],[24.56,4215],[24.63,4212],[24.69,4220],[24.76,4225],[24.82,4218],[24.88,4232],[24.95,4228],[25.01,4235],[25.08,4230],[25.14,4235],[25.2,4225],[25.27,4240],[25.33,4232],[25.4,4245],[25.46,4238],[25.53,4242],[25.59,4235],[25.66,4241],[25.72,4250],[25.78,4242],[25.85,4255],[25.91,4245],[25.97,4252],[26.04,4248],[26.1,4258],[26.17,4257],[26.23,4245],[26.3,4255],[26.36,4262],[26.43,4250],[26.49,4258],[26.56,4252],[26.62,4265],[26.68,4260],[26.75,4270],[26.81,4262],[26.88,4275],[26.94,4274],[27,4290]];

// O7+/O6+ charge-state ratio
const oxygenRatio = [[0,0.37],[0.05,1.16],[0.1,0.5],[0.15,0.25],[0.2,0.55],[0.27,0.33],[0.33,0.42],[0.4,0.6],[0.46,0.79],[0.52,0.45],[0.59,0.33],[0.65,0.55],[0.72,0.62],[0.78,0.4],[0.85,0.48],[0.9,0.75],[0.98,0.7],[1.04,0.35],[1.1,0.29],[1.16,0.9],[1.2,0.5],[1.23,1.16],[1.27,0.3],[1.3,0.196],[1.33,0.6],[1.36,0.9],[1.42,0.5],[1.49,0.62],[1.55,0.8],[1.62,0.75],[1.68,0.79],[1.75,0.72],[1.82,0.68],[1.88,0.62],[1.94,0.5],[2.0,0.37],[2.04,0.2],[2.07,0.173],[2.13,0.35],[2.2,0.42],[2.26,0.3],[2.33,0.33],[2.39,0.24],[2.45,0.17],[2.52,0.2],[2.58,0.196],[2.65,0.19],[2.72,0.2],[2.78,0.184],[2.85,0.17],[2.9,0.15],[2.97,0.14],[3.03,0.126],[3.1,0.15],[3.16,0.14],[3.22,0.17],[3.29,0.152],[3.35,0.19],[3.42,0.21],[3.48,0.17],[3.55,0.223],[3.6,0.17],[3.66,0.118],[3.72,0.2],[3.8,0.21],[3.87,0.2],[3.93,0.215],[4.0,0.22],[4.06,0.223],[4.12,0.3],[4.18,0.26],[4.25,0.38],[4.32,0.42],[4.38,0.32],[4.45,0.52],[4.52,0.4],[4.58,0.48],[4.64,0.38],[4.7,0.45],[4.77,0.5],[4.83,0.42],[4.9,0.6],[4.96,0.7],[5.03,0.65],[5.09,0.9],[5.15,0.8],[5.22,0.95],[5.28,0.85],[5.35,1.03],[5.41,0.9],[5.48,1.0],[5.54,0.92],[5.6,1.03],[5.67,0.95],[5.73,1.05],[5.8,0.88],[5.86,0.9],[5.93,1.0],[5.99,1.05],[6.05,1.1],[6.12,1.16],[6.18,1.1],[6.25,1.3],[6.31,1.25],[6.37,1.5],[6.44,1.35],[6.5,1.5],[6.56,1.4],[6.63,1.71],[6.7,1.3],[6.76,1.03],[6.8,0.6],[6.82,0.37],[6.86,0.7],[6.89,0.9],[6.95,0.75],[7.02,1.0],[7.08,0.7],[7.15,0.62],[7.21,0.5],[7.28,0.55],[7.34,0.45],[7.4,0.42],[7.47,0.5],[7.53,0.38],[7.6,0.4],[7.66,0.33],[7.72,0.42],[7.79,0.38],[7.86,0.45],[7.92,0.42],[7.98,0.35],[8.05,0.38],[8.11,0.3],[8.17,0.29],[8.24,0.35],[8.3,0.3],[8.37,0.36],[8.43,0.33],[8.5,0.45],[8.56,0.62],[8.62,0.5],[8.68,0.42],[8.75,0.33],[8.8,0.2],[8.84,0.062],[8.9,0.07],[8.95,0.058],[9.01,0.066],[9.07,0.055],[9.14,0.065],[9.2,0.06],[9.27,0.07],[9.33,0.062],[9.4,0.072],[9.46,0.068],[9.53,0.074],[9.59,0.066],[9.65,0.072],[9.72,0.071],[9.78,0.062],[9.85,0.058],[9.91,0.062],[9.97,0.051],[10.04,0.06],[10.1,0.058],[10.17,0.065],[10.23,0.058],[10.3,0.05],[10.36,0.055],[10.43,0.065],[10.49,0.06],[10.55,0.07],[10.62,0.068],[10.68,0.075],[10.74,0.08],[10.81,0.066],[10.87,0.07],[10.94,0.058],[11.0,0.062],[11.06,0.075],[11.13,0.068],[11.2,0.08],[11.26,0.07],[11.33,0.065],[11.39,0.075],[11.45,0.08],[11.52,0.08],[11.58,0.072],[11.65,0.071],[11.71,0.085],[11.78,0.08],[11.84,0.1],[11.9,0.091],[11.94,0.173],[11.98,0.1],[12.04,0.085],[12.1,0.095],[12.16,0.091],[12.22,0.105],[12.29,0.095],[12.35,0.12],[12.42,0.11],[12.48,0.13],[12.55,0.134],[12.61,0.1],[12.67,0.115],[12.74,0.1],[12.8,0.09],[12.87,0.085],[12.93,0.08],[13.0,0.095],[13.06,0.11],[13.13,0.1],[13.19,0.12],[13.26,0.105],[13.32,0.118],[13.38,0.11],[13.45,0.125],[13.51,0.115],[13.58,0.13],[13.64,0.12],[13.7,0.134],[13.77,0.125],[13.83,0.14],[13.9,0.13],[13.96,0.15],[14.02,0.16],[14.09,0.173],[14.15,0.16],[14.22,0.18],[14.28,0.17],[14.35,0.19],[14.41,0.175],[14.47,0.184],[14.54,0.2],[14.6,0.19],[14.66,0.21],[14.73,0.2],[14.8,0.215],[14.86,0.223],[14.92,0.2],[14.99,0.21],[15.05,0.19],[15.12,0.2],[15.18,0.173],[15.24,0.18],[15.31,0.16],[15.37,0.17],[15.44,0.15],[15.5,0.14],[15.56,0.15],[15.63,0.126],[15.69,0.15],[15.76,0.223],[15.8,0.13],[15.86,0.14],[15.93,0.12],[15.99,0.15],[16.06,0.118],[16.12,0.13],[16.19,0.12],[16.25,0.14],[16.31,0.134],[16.38,0.15],[16.44,0.12],[16.5,0.06],[16.53,0.043],[16.56,0.08],[16.62,0.1],[16.68,0.14],[16.74,0.16],[16.79,0.173],[16.86,0.15],[16.92,0.17],[16.98,0.16],[17.05,0.18],[17.11,0.173],[17.17,0.19],[17.24,0.17],[17.3,0.2],[17.37,0.185],[17.43,0.21],[17.5,0.19],[17.56,0.196],[17.62,0.25],[17.69,0.3],[17.75,0.28],[17.82,0.37],[17.88,0.42],[17.94,0.5],[18.01,0.45],[18.07,0.62],[18.14,0.55],[18.2,0.75],[18.27,0.7],[18.33,0.9],[18.4,0.8],[18.46,0.95],[18.52,0.6],[18.56,0.37],[18.6,0.8],[18.65,0.9],[18.72,0.85],[18.78,1.0],[18.84,0.96],[18.9,0.88],[18.97,0.95],[19.04,0.9],[19.1,1.0],[19.17,1.03],[19.23,0.9],[19.3,0.8],[19.36,0.78],[19.42,0.72],[19.49,0.7],[19.55,0.68],[19.62,0.62],[19.68,0.6],[19.74,0.55],[19.81,0.48],[19.87,0.35],[19.93,0.26],[20.0,0.223],[20.06,0.2],[20.13,0.19],[20.19,0.21],[20.26,0.173],[20.32,0.19],[20.39,0.2],[20.45,0.215],[20.51,0.196],[20.58,0.17],[20.64,0.15],[20.7,0.14],[20.77,0.134],[20.83,0.12],[20.9,0.11],[20.96,0.1],[21.03,0.091],[21.09,0.095],[21.16,0.11],[21.22,0.1],[21.29,0.1],[21.35,0.095],[21.41,0.1],[21.48,0.09],[21.54,0.091],[21.6,0.11],[21.67,0.12],[21.73,0.1],[21.8,0.14],[21.86,0.12],[21.93,0.173],[21.99,0.13],[22.06,0.15],[22.12,0.13],[22.19,0.223],[22.25,0.14],[22.31,0.12],[22.38,0.1],[22.44,0.091],[22.51,0.12],[22.57,0.13],[22.63,0.11],[22.7,0.14],[22.76,0.12],[22.83,0.134],[22.89,0.15],[22.96,0.14],[23.02,0.16],[23.08,0.15],[23.15,0.17],[23.21,0.173],[23.28,0.16],[23.34,0.175],[23.41,0.17],[23.47,0.18],[23.53,0.165],[23.6,0.173],[23.66,0.16],[23.73,0.175],[23.79,0.17],[23.86,0.16],[23.92,0.155],[23.98,0.152],[24.05,0.17],[24.11,0.16],[24.17,0.18],[24.24,0.17],[24.3,0.175],[24.37,0.184],[24.43,0.16],[24.5,0.175],[24.56,0.14],[24.63,0.17],[24.69,0.16],[24.76,0.152],[24.82,0.18],[24.88,0.2],[24.95,0.24],[25.01,0.25],[25.08,0.31],[25.14,0.24],[25.2,0.25],[25.27,0.22],[25.33,0.26],[25.4,0.223],[25.46,0.25],[25.52,0.21],[25.59,0.24],[25.65,0.22],[25.72,0.25],[25.78,0.223],[25.84,0.28],[25.9,0.35],[25.97,0.4],[26.03,0.55],[26.1,0.45],[26.17,0.4],[26.23,0.32],[26.3,0.37],[26.36,0.3],[26.43,0.33],[26.49,0.28],[26.56,0.29],[26.62,0.35],[26.68,0.55],[26.72,0.3],[26.78,0.25],[26.84,0.28],[26.88,0.223],[26.94,0.25],[27,0.196]];

// ---------------------------------------------------------------------------
const INK = '#333333';
const AXIS_FONT = 'DejaVu Sans, Liberation Sans, Arial, sans-serif';
const BIG_FONT = 'Liberation Sans, Arial, Helvetica, sans-serif';
const RED = '#ff0000', BLUE = '#0000ff';
const TICK_SIZE = 15;

// plot area in page pixels: x 108..808, y 30..1094
const PX0 = 108, PW = 700, PY1 = 1094, PH = 1064;
const px2paper = px => (px - PX0) / PW;
const py2paper = py => (PY1 - py) / PH;

const xs = p => p.map(q => q[0]);
const ys = p => p.map(q => q[1]);

function logMinor(lo, hi) {
  const v = [];
  for (let e = lo; e < hi; e++) for (let m = 2; m <= 9; m++) v.push(m * Math.pow(10, e));
  return v;
}

const panels = [
  {top: 30,  bot: 140, range: [0, 30], dtick: 10, minor: 2,
   labels: [[30,'30'],[20,'20'],[10,'10'],[0,'0']], title: 'B(nT)', titleY: 106},
  {top: 140, bot: 250, range: [-90, 90], dtick: 90, minor: 30,
   labels: [[0,'0'],[-90,'-90']], title: 'θ<sub>B</sub>', titleY: 240},
  {top: 250, bot: 360, range: [0, 360], dtick: 180, minor: 60,
   labels: [[180,'180'],[0,'0']], title: 'ϕ<sub>B</sub>', titleY: 345},
  {top: 360, bot: 470, log: true, range: [4, 6], majorVals: [1e4,1e5,1e6], minorVals: logMinor(4,6),
   labels: [[5,'10<sup>5</sup>'],[4,'10<sup>4</sup>']], title: 'T<sub>p</sub>(K)', titleY: 446},
  {top: 470, bot: 580, range: [0, 80], dtick: 20, minor: 5,
   labels: [[60,'60'],[40,'40'],[20,'20'],[0,'0']], title: 'n(/cc)', titleY: 548},
  {top: 580, bot: 691, range: [200, 800], dtick: 200, minor: 50,
   labels: [[600,'600'],[400,'400'],[200,'200']], title: 'V(km/s)', titleY: 660},
  {top: 691, bot: 837, range: [240, 280], dtick: 10, minor: 2,
   labels: [[270,'270'],[260,'260'],[250,'250'],[240,'240']], title: 'IMP8 G', titleY: 806},
  {top: 837, bot: 985, range: [4060, 4300], dtick: 60, minor: 10,
   labels: [[4240,'4240'],[4180,'4180'],[4120,'4120'],[4060,'4060']], title: 'Thule NM', titleY: 945},
  {top: 985, bot: 1094, log: true, range: [-1.49, 0.32], majorVals: [0.1, 1], minorVals: logMinor(-2, 1),
   labels: [[-1,'10<sup>-1</sup>']], title: 'O7/O6', titleY: 1068}
];

const layout = {
  width: 822, height: 1213,
  margin: {l: 101, r: 21, t: 26, b: 123, pad: 0},
  paper_bgcolor: '#ffffff', plot_bgcolor: '#ffffff',
  showlegend: false,
  font: {family: AXIS_FONT, color: INK, size: TICK_SIZE},
  shapes: [], annotations: []
};

const n = panels.length;
panels.forEach((p, i) => {
  const k = i === 0 ? '' : String(i + 1);
  const isTop = i === 0, isBottom = i === n - 1;
  layout['xaxis' + k] = {
    domain: [0, 1], range: [0, 27], anchor: 'y' + k,
    side: isTop ? 'top' : 'bottom',
    showline: true, linecolor: '#3a3a3a', linewidth: 1.7, mirror: true,
    showgrid: false, zeroline: false, showticklabels: false,
    tickmode: 'linear', tick0: 0, dtick: 1,
    ticks: (isTop || isBottom) ? 'outside' : '', ticklen: 8, tickwidth: 1.3, tickcolor: '#3a3a3a',
    minor: {ticks: (isTop || isBottom) ? 'outside' : '', tickmode: 'linear', tick0: 0, dtick: 0.5,
            ticklen: 4, tickwidth: 1.1, tickcolor: '#3a3a3a', showgrid: false}
  };
  const ya = {
    domain: [py2paper(p.bot), py2paper(p.top)], anchor: 'x' + k,
    range: p.range, type: p.log ? 'log' : 'linear',
    showline: true, linecolor: '#3a3a3a', linewidth: 1.7, mirror: 'ticks',
    showgrid: false, zeroline: false, showticklabels: false,
    ticks: 'outside', ticklen: 8, tickwidth: 1.3, tickcolor: '#3a3a3a'
  };
  if (p.log) {
    ya.tickmode = 'array'; ya.tickvals = p.majorVals;
    ya.minor = {ticks: 'outside', tickmode: 'array', tickvals: p.minorVals, ticklen: 4, tickwidth: 1.1, tickcolor: '#3a3a3a', showgrid: false};
  } else {
    ya.tickmode = 'linear'; ya.tick0 = p.range[0]; ya.dtick = p.dtick;
    ya.minor = {ticks: 'outside', tickmode: 'linear', tick0: p.range[0], dtick: p.minor, ticklen: 4, tickwidth: 1.1, tickcolor: '#3a3a3a', showgrid: false};
  }
  layout['yaxis' + k] = ya;

  // left-aligned tick labels
  p.labels.forEach(([v, t]) => layout.annotations.push({
    xref: 'paper', yref: 'y' + k, x: px2paper(54), y: v, xanchor: 'left', yanchor: 'middle',
    text: t, showarrow: false, font: {family: AXIS_FONT, size: TICK_SIZE, color: INK}
  }));
  // rotated axis title
  layout.annotations.push({
    xref: 'paper', yref: 'paper', x: px2paper(35), y: py2paper(p.titleY), xanchor: 'center', yanchor: 'middle',
    text: p.title, textangle: -90, showarrow: false, font: {family: AXIS_FONT, size: 15, color: INK}
  });
});

// time axis labels under the bottom panel
dayTicks.forEach((d, i) => {
  layout.annotations.push({xref: 'x9', yref: 'paper', x: d, y: py2paper(1112), xanchor: 'left', yanchor: 'middle', xshift: -5,
    text: doyLabels[i], showarrow: false, font: {family: AXIS_FONT, size: TICK_SIZE, color: INK}});
  if (dateLabels[i]) layout.annotations.push({xref: 'x9', yref: 'paper', x: d, y: py2paper(1133), xanchor: 'left', yanchor: 'middle', xshift: -5,
    text: dateLabels[i], showarrow: false, font: {family: AXIS_FONT, size: TICK_SIZE, color: INK}});
});
[['DOY', 0, 1112, 'right', -8], ['1999', 0, 1177, 'right', -8], ['Dec', 0, 1155, 'left', -5],
 ['Jan', 10, 1155, 'left', -5], ['2000', 10, 1177, 'left', -5]].forEach(([t, d, py, anc, sh]) =>
  layout.annotations.push({xref: 'x9', yref: 'paper', x: d, y: py2paper(py), xanchor: anc, yanchor: 'middle', xshift: sh,
    text: t, showarrow: false, font: {family: AXIS_FONT, size: TICK_SIZE, color: INK}}));

// event markers across all panels
eventDays.forEach((d, i) => layout.shapes.push({
  type: 'line', xref: 'x', yref: 'paper', x0: d, x1: d, y0: 0, y1: 1, layer: 'above',
  line: i < 2 ? {color: '#444', width: 1.2, dash: '6px,4px'} : {color: '#999', width: 2, dash: '7px,4px'}
}));
// zero reference in the theta_B panel
layout.shapes.push({type: 'line', xref: 'x2', yref: 'y2', x0: 0, x1: 27, y0: 0, y1: 0, layer: 'below',
  line: {color: '#999', width: 1, dash: 'dot'}});

// panel annotations
const big = (text, px, py, color, size) => layout.annotations.push({
  xref: 'paper', yref: 'paper', x: px2paper(px), y: py2paper(py), xanchor: 'center', yanchor: 'middle',
  text, showarrow: false, font: {family: BIG_FONT, size, color}
});
big('1', 166, 62, RED, 37);
big('2', 336, 62, RED, 37);
big('3', 631, 62, RED, 37);
big('B', 735, 80, BLUE, 37);
big('θB', 746, 238, BLUE, 33);
big('S', 125, 299, RED, 37);
big('O', 197, 299, RED, 37);
big('S', 317, 292, RED, 37);
big('Outward', 425, 287, RED, 37);
big('Sunward', 702, 307, RED, 37);
big('ΦB', 730, 349, BLUE, 33);
big('ICME', 265, 395, RED, 21);
big('Tp', 752, 395, BLUE, 34);
big('SI', 155, 495, RED, 35);
big('SI', 319, 500, RED, 35);
big('SI', 614, 500, RED, 35);
big('Density', 725, 532, BLUE, 37);
big('Vsw', 745, 621, BLUE, 37);
big('Cosmic Rays (IMP 8)', 616, 818, BLUE, 37);
big('Cosmic Rays (Thule)', 615, 962, BLUE, 37);
big('O<sup>7</sup>/O<sup>6</sup>', 704, 1018, BLUE, 37);

// traces
const line = (w, c) => ({color: c || '#111', width: w});
const tr = (x, y, k, w, c) => ({x, y, xaxis: 'x' + k, yaxis: 'y' + k, type: 'scatter', mode: 'lines',
  line: line(w, c), hoverinfo: 'skip', connectgaps: false});

const impX = [], impY = [];
imp8Runs.forEach((run, i) => {
  if (i) { impX.push(null); impY.push(null); }
  run.forEach(q => { impX.push(q[0]); impY.push(q[1]); });
});

const data = [
  tr(xs(bField), ys(bField), '', 1.7),
  tr(xs(thetaB), ys(thetaB), '2', 1.6),
  tr(xs(phiB), ys(phiB), '3', 1.6),
  tr(xs(tpExpLog), ys(tpExpLog).map(v => Math.pow(10, v)), '4', 1.0, '#333'),
  tr(xs(tpLog), ys(tpLog).map(v => Math.pow(10, v)), '4', 1.8),
  tr(xs(density), ys(density), '5', 1.6),
  tr(xs(speed), ys(speed), '6', 1.6),
  tr(impX, impY, '7', 1.8),
  tr(xs(thule), ys(thule), '8', 1.6),
  tr(xs(oxygenRatio), ys(oxygenRatio), '9', 1.6)
];

Plotly.newPlot('chart', data, layout, {staticPlot: true, displayModeBar: false});
</script>
</body>
</html>
